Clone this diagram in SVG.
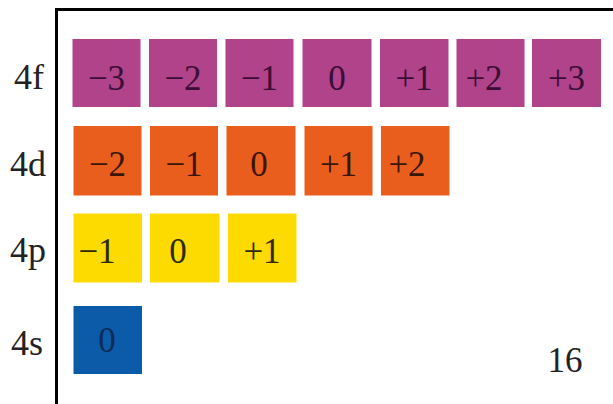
<svg xmlns="http://www.w3.org/2000/svg" width="613" height="404" viewBox="0 0 613 404" font-family="'Liberation Serif', 'DejaVu Serif', serif">
<style>
text{font-family:"Liberation Serif","DejaVu Serif",serif;}
.lbl{font-size:36px;fill:#222;text-anchor:end;}
.v{font-size:35px;text-anchor:middle;}
.f rect{fill:#B0438A;} .f text{fill:#3c0d36;}
.d rect{fill:#E95E1C;} .d text{fill:#3a1606;}
.p rect{fill:#FDDB00;} .p text{fill:#2e2a10;}
.s rect{fill:#0B5BA8;} .s text{fill:#0c2c5c;}
</style>
<rect width="613" height="404" fill="#fff"/>
<g id="frame" fill="none" stroke="#000" stroke-width="3">
<path d="M56.5 404 V9.5 H613"/>
</g>
<g id="labels">
<text class="lbl" x="44" y="89">4f</text>
<text class="lbl" x="46" y="176">4d</text>
<text class="lbl" x="46" y="262">4p</text>
<text class="lbl" x="43" y="355">4s</text>
</g>
<g id="row4f" class="f">
<g id="f-3"><rect x="72.5" y="39" width="68" height="68"/><text class="v" x="106.5" y="90">−3</text></g>
<g id="f-2"><rect x="149" y="39" width="68" height="68"/><text class="v" x="183" y="90">−2</text></g>
<g id="f-1"><rect x="225.5" y="39" width="68" height="68"/><text class="v" x="259.5" y="90">−1</text></g>
<g id="f0"><rect x="302.5" y="39" width="69" height="68"/><text class="v" x="337" y="90">0</text></g>
<g id="f+1"><rect x="380" y="39" width="68.5" height="68"/><text class="v" x="414" y="90">+1</text></g>
<g id="f+2"><rect x="456.5" y="39" width="68" height="68"/><text class="v" x="484" y="90">+2</text></g>
<g id="f+3"><rect x="532" y="39" width="69" height="68"/><text class="v" x="566.5" y="90">+3</text></g>
</g>
<g id="row4d" class="d">
<g id="d-2"><rect x="73.5" y="126" width="68" height="69.5"/><text class="v" x="107.5" y="176">−2</text></g>
<g id="d-1"><rect x="150" y="126" width="68" height="69.5"/><text class="v" x="184" y="176">−1</text></g>
<g id="d0"><rect x="226.5" y="126" width="69" height="69.5"/><text class="v" x="259" y="176">0</text></g>
<g id="d+1"><rect x="304.5" y="126" width="68" height="69.5"/><text class="v" x="338.5" y="176">+1</text></g>
<g id="d+2"><rect x="381" y="126" width="68.5" height="69.5"/><text class="v" x="407" y="176">+2</text></g>
</g>
<g id="row4p" class="p">
<g id="p-1"><rect x="73.5" y="213.5" width="68.5" height="69"/><text class="v" x="97" y="263">−1</text></g>
<g id="p0"><rect x="150" y="213.5" width="69.5" height="69"/><text class="v" x="178" y="263">0</text></g>
<g id="p+1"><rect x="228" y="213.5" width="68.5" height="69"/><text class="v" x="262" y="263">+1</text></g>
</g>
<g id="row4s" class="s">
<g id="s0"><rect x="73.5" y="306" width="68.5" height="68"/><text class="v" x="107" y="352">0</text></g>
</g>
<text x="565" y="372" font-size="35" fill="#222" text-anchor="middle">16</text>
</svg>
